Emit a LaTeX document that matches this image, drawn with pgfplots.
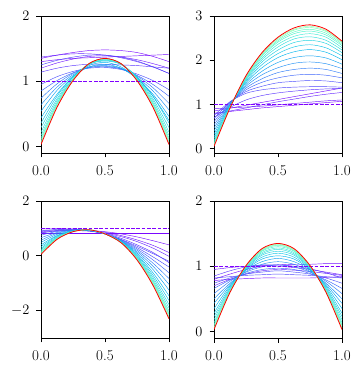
\documentclass[border=0pt]{standalone}
\usepackage{pgfplots}
\pgfplotsset{compat=1.18}

% rainbow colormap samples (early iterations purple -> late ones green)
\definecolor{pur}{rgb}{0.50,0.00,1.00}
\definecolor{k1}{rgb}{0.48,0.031,1.0}
\definecolor{k2}{rgb}{0.46,0.063,1.0}
\definecolor{k3}{rgb}{0.44,0.094,0.999}
\definecolor{k4}{rgb}{0.40,0.156,0.997}
\definecolor{k5}{rgb}{0.36,0.218,0.994}
\definecolor{k6}{rgb}{0.32,0.279,0.990}
\definecolor{k7}{rgb}{0.30,0.309,0.988}
\definecolor{k8}{rgb}{0.24,0.397,0.979}
\definecolor{k9}{rgb}{0.18,0.482,0.969}
\definecolor{k10}{rgb}{0.12,0.562,0.956}
\definecolor{k11}{rgb}{0.06,0.637,0.941}
\definecolor{k12}{rgb}{0.00,0.707,0.924}
\definecolor{k13}{rgb}{0.06,0.771,0.905}
\definecolor{k14}{rgb}{0.12,0.827,0.884}
\definecolor{k15}{rgb}{0.18,0.876,0.861}
\definecolor{k16}{rgb}{0.24,0.918,0.836}
\definecolor{k17}{rgb}{0.30,0.951,0.809}
\definecolor{k18}{rgb}{0.38,0.982,0.770}
\definecolor{k19}{rgb}{0.46,0.998,0.729}
\definecolor{k20}{rgb}{0.60,0.988,0.649}

\pgfplotsset{
  panel/.style={
    scale only axis, width=128pt, height=137pt,
    anchor=north west,
    xmin=0, xmax=1, xtick={0,0.5,1}, xticklabels={0.0,0.5,1.0},
    tick pos=left, tick align=outside, major tick length=4.5pt,
    axis line style={line width=0.8pt},
    every tick/.style={black, line width=0.8pt},
    tick label style={font=\fontsize{15}{17}\selectfont},
    xticklabel style={yshift=-5pt},
    yticklabel style={xshift=-3.5pt},
    cycle list={{k1},{k2},{k3},{k4},{k5},{k6},{k7},{k8},{k9},{k10},
                {k11},{k12},{k13},{k14},{k15},{k16},{k17},{k18},{k19},{k20}},
  },
  crv/.style={smooth, mark=none, line width=0.45pt},
  tgt/.style={smooth, mark=none, draw=red, line width=0.8pt},
  ini/.style={mark=none, draw=pur, line width=1pt, dash pattern=on 3.7pt off 1.6pt},
}
\newcommand\C[9]{\addplot+[crv] coordinates {(0,#1)(0.125,#2)(0.25,#3)(0.375,#4)(0.5,#5)(0.625,#6)(0.75,#7)(0.875,#8)(1,#9)};}

\begin{document}
\begin{tikzpicture}
\path[use as bounding box] (0,0) rectangle (363pt,-374pt);

% top left
\begin{axis}[panel, at={(41pt,-16pt)}, ymin=-0.1, ymax=2, ytick={0,1,2}]
\C{1.35}{1.40}{1.44}{1.47}{1.48}{1.47}{1.44}{1.38}{1.30}
\C{1.30}{1.33}{1.35}{1.36}{1.37}{1.38}{1.39}{1.40}{1.41}
\C{1.20}{1.28}{1.34}{1.38}{1.39}{1.37}{1.33}{1.27}{1.20}
\C{1.37}{1.40}{1.42}{1.42}{1.40}{1.36}{1.30}{1.22}{1.12}
\C{1.14}{1.20}{1.24}{1.26}{1.26}{1.25}{1.24}{1.22}{1.20}
\C{1.25}{1.32}{1.37}{1.40}{1.40}{1.37}{1.31}{1.22}{1.12}
\C{0.95}{1.07}{1.15}{1.20}{1.21}{1.18}{1.11}{1.01}{0.87}
\C{0.85}{1.01}{1.13}{1.21}{1.22}{1.19}{1.09}{0.95}{0.77}
\C{0.74}{0.96}{1.12}{1.21}{1.23}{1.19}{1.08}{0.90}{0.66}
\C{0.64}{0.91}{1.10}{1.22}{1.24}{1.20}{1.06}{0.85}{0.56}
\C{0.54}{0.86}{1.08}{1.22}{1.26}{1.20}{1.04}{0.80}{0.46}
\C{0.44}{0.80}{1.07}{1.24}{1.29}{1.22}{1.05}{0.77}{0.40}
\C{0.36}{0.77}{1.07}{1.26}{1.31}{1.26}{1.07}{0.77}{0.36}
\C{0.29}{0.73}{1.06}{1.26}{1.32}{1.26}{1.06}{0.73}{0.29}
\C{0.22}{0.70}{1.04}{1.26}{1.33}{1.26}{1.04}{0.70}{0.22}
\C{0.17}{0.67}{1.04}{1.26}{1.33}{1.26}{1.04}{0.67}{0.17}
\C{0.13}{0.65}{1.03}{1.27}{1.34}{1.27}{1.03}{0.65}{0.13}
\C{0.10}{0.64}{1.02}{1.27}{1.34}{1.27}{1.02}{0.64}{0.10}
\C{0.07}{0.62}{1.02}{1.27}{1.35}{1.27}{1.02}{0.62}{0.07}
\C{0.05}{0.61}{1.01}{1.27}{1.35}{1.27}{1.01}{0.61}{0.05}
\addplot[ini] coordinates {(0,1) (1,1)};
\addplot[tgt] coordinates {(0,0.03)(0.125,0.60)(0.25,1.01)(0.375,1.27)(0.5,1.35)(0.625,1.27)(0.75,1.01)(0.875,0.60)(1,0.03)};
\end{axis}

% top right
\begin{axis}[panel, at={(214pt,-16pt)}, ymin=-0.1, ymax=3, ytick={0,1,2,3}]
\C{0.80}{0.84}{0.88}{0.92}{0.95}{0.98}{1.01}{1.04}{1.07}
\C{0.85}{0.915}{0.98}{1.045}{1.11}{1.175}{1.24}{1.305}{1.37}
\C{0.90}{0.92}{0.94}{0.96}{0.99}{1.02}{1.05}{1.08}{1.10}
\C{0.78}{0.85}{0.92}{0.99}{1.06}{1.12}{1.18}{1.23}{1.27}
\C{0.70}{0.93}{1.10}{1.20}{1.26}{1.30}{1.33}{1.35}{1.36}
\C{0.75}{1.06}{1.25}{1.33}{1.37}{1.39}{1.40}{1.40}{1.39}
\C{0.68}{1.05}{1.29}{1.41}{1.49}{1.52}{1.54}{1.53}{1.49}
\C{0.61}{1.03}{1.33}{1.50}{1.60}{1.66}{1.68}{1.66}{1.60}
\C{0.54}{1.02}{1.37}{1.58}{1.72}{1.79}{1.82}{1.79}{1.70}
\C{0.47}{1.00}{1.41}{1.67}{1.83}{1.93}{1.96}{1.92}{1.81}
\C{0.40}{0.99}{1.45}{1.75}{1.95}{2.06}{2.10}{2.05}{1.91}
\C{0.33}{0.98}{1.49}{1.83}{2.06}{2.19}{2.24}{2.18}{2.01}
\C{0.27}{0.96}{1.52}{1.90}{2.15}{2.30}{2.35}{2.28}{2.10}
\C{0.23}{0.96}{1.55}{1.96}{2.23}{2.40}{2.45}{2.38}{2.17}
\C{0.18}{0.95}{1.57}{2.01}{2.30}{2.48}{2.53}{2.45}{2.23}
\C{0.15}{0.94}{1.59}{2.05}{2.36}{2.54}{2.60}{2.52}{2.28}
\C{0.12}{0.93}{1.61}{2.09}{2.41}{2.60}{2.66}{2.57}{2.33}
\C{0.10}{0.93}{1.62}{2.11}{2.44}{2.64}{2.70}{2.61}{2.36}
\C{0.08}{0.92}{1.63}{2.14}{2.47}{2.68}{2.74}{2.65}{2.39}
\C{0.06}{0.92}{1.64}{2.15}{2.50}{2.70}{2.77}{2.67}{2.41}
\addplot[ini] coordinates {(0,1) (1,1)};
\addplot[tgt] coordinates {(0,0.05)(0.125,0.92)(0.25,1.65)(0.375,2.17)(0.5,2.52)(0.625,2.73)(0.75,2.80)(0.875,2.70)(1,2.43)};
\end{axis}

% bottom left
\begin{axis}[panel, at={(41pt,-201pt)}, ymin=-3, ymax=2, ytick={-2,0,2}]
\C{0.81}{0.81}{0.81}{0.81}{0.81}{0.81}{0.81}{0.81}{0.81}
\C{0.88}{0.92}{0.93}{0.92}{0.88}{0.80}{0.69}{0.55}{0.40}
\C{0.98}{0.99}{0.98}{0.94}{0.86}{0.74}{0.58}{0.38}{0.12}
\C{0.85}{0.90}{0.92}{0.90}{0.83}{0.70}{0.52}{0.28}{-0.02}
\C{0.90}{0.95}{0.96}{0.92}{0.82}{0.64}{0.40}{0.12}{-0.25}
\C{0.92}{0.96}{0.96}{0.91}{0.80}{0.60}{0.35}{0.08}{-0.20}
\C{0.83}{0.92}{0.95}{0.91}{0.80}{0.59}{0.30}{-0.04}{-0.41}
\C{0.75}{0.89}{0.94}{0.92}{0.80}{0.58}{0.25}{-0.15}{-0.62}
\C{0.66}{0.85}{0.94}{0.92}{0.80}{0.56}{0.20}{-0.27}{-0.83}
\C{0.57}{0.82}{0.93}{0.93}{0.80}{0.55}{0.15}{-0.38}{-1.04}
\C{0.49}{0.78}{0.92}{0.93}{0.80}{0.54}{0.10}{-0.50}{-1.25}
\C{0.40}{0.74}{0.91}{0.93}{0.80}{0.53}{0.05}{-0.62}{-1.46}
\C{0.33}{0.72}{0.91}{0.94}{0.80}{0.52}{0.01}{-0.71}{-1.63}
\C{0.27}{0.69}{0.90}{0.94}{0.80}{0.51}{-0.03}{-0.79}{-1.78}
\C{0.22}{0.67}{0.90}{0.94}{0.80}{0.50}{-0.06}{-0.86}{-1.90}
\C{0.17}{0.65}{0.89}{0.94}{0.80}{0.50}{-0.08}{-0.92}{-2.01}
\C{0.14}{0.64}{0.89}{0.95}{0.80}{0.49}{-0.10}{-0.96}{-2.09}
\C{0.11}{0.63}{0.89}{0.95}{0.80}{0.49}{-0.12}{-1.00}{-2.15}
\C{0.08}{0.61}{0.88}{0.95}{0.80}{0.48}{-0.13}{-1.03}{-2.22}
\C{0.07}{0.61}{0.88}{0.95}{0.80}{0.48}{-0.14}{-1.06}{-2.26}
\addplot[ini] coordinates {(0,1) (1,1)};
\addplot[tgt] coordinates {(0,0.05)(0.125,0.60)(0.25,0.88)(0.375,0.95)(0.5,0.80)(0.625,0.48)(0.75,-0.15)(0.875,-1.08)(1,-2.30)};
\end{axis}

% bottom right
\begin{axis}[panel, at={(214pt,-201pt)}, ymin=-0.1, ymax=2, ytick={0,1,2}]
\C{0.78}{0.80}{0.81}{0.82}{0.82}{0.82}{0.82}{0.83}{0.84}
\C{0.80}{0.88}{0.95}{1.00}{1.02}{1.03}{1.03}{1.04}{1.04}
\C{0.95}{0.98}{1.00}{1.01}{1.00}{0.98}{0.95}{0.91}{0.87}
\C{0.70}{0.80}{0.88}{0.93}{0.95}{0.94}{0.92}{0.89}{0.86}
\C{0.85}{0.93}{0.99}{1.02}{1.02}{1.00}{0.96}{0.90}{0.82}
\C{0.82}{0.84}{0.86}{0.87}{0.88}{0.87}{0.86}{0.84}{0.82}
\C{0.74}{0.82}{0.88}{0.91}{0.93}{0.91}{0.88}{0.82}{0.74}
\C{0.66}{0.79}{0.89}{0.95}{0.97}{0.95}{0.89}{0.79}{0.66}
\C{0.58}{0.77}{0.91}{0.99}{1.02}{0.99}{0.91}{0.77}{0.58}
\C{0.50}{0.74}{0.92}{1.03}{1.07}{1.03}{0.92}{0.74}{0.50}
\C{0.43}{0.72}{0.94}{1.07}{1.12}{1.07}{0.94}{0.72}{0.43}
\C{0.35}{0.70}{0.95}{1.11}{1.16}{1.11}{0.95}{0.70}{0.35}
\C{0.28}{0.68}{0.96}{1.14}{1.20}{1.14}{0.96}{0.68}{0.28}
\C{0.23}{0.66}{0.97}{1.17}{1.23}{1.17}{0.97}{0.66}{0.23}
\C{0.18}{0.65}{0.98}{1.19}{1.26}{1.19}{0.98}{0.65}{0.18}
\C{0.14}{0.63}{0.99}{1.21}{1.28}{1.21}{0.99}{0.63}{0.14}
\C{0.11}{0.62}{0.99}{1.23}{1.30}{1.23}{0.99}{0.62}{0.11}
\C{0.09}{0.62}{1.00}{1.24}{1.32}{1.24}{1.00}{0.62}{0.09}
\C{0.06}{0.61}{1.00}{1.25}{1.33}{1.25}{1.00}{0.61}{0.06}
\C{0.05}{0.60}{1.01}{1.26}{1.34}{1.26}{1.01}{0.60}{0.05}
\addplot[ini] coordinates {(0,1) (1,1)};
\addplot[tgt] coordinates {(0,0.03)(0.125,0.60)(0.25,1.01)(0.375,1.27)(0.5,1.35)(0.625,1.27)(0.75,1.01)(0.875,0.60)(1,0.03)};
\end{axis}
\end{tikzpicture}
\end{document}
